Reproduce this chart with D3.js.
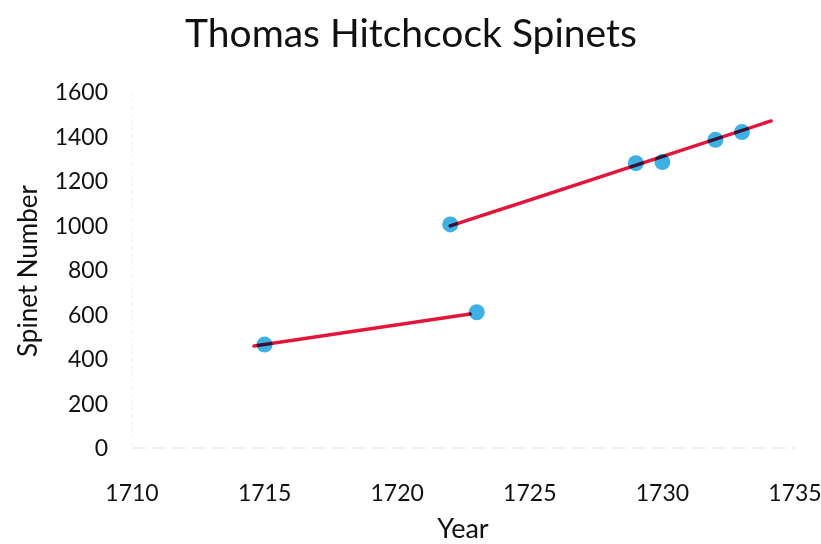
<!DOCTYPE html>
<html>
<head>
<meta charset="utf-8">
<script src="https://cdn.jsdelivr.net/npm/d3@7"></script>
<style>
  body { margin: 0; background: #fff; }
  svg { display: block; font-family: Lato, "Open Sans", sans-serif; }
</style>
</head>
<body>
<div id="chart"></div>
<script>
// observed spinets
var years = [1715, 1722, 1723, 1729, 1730, 1732, 1733];
var spinets = [465, 1005, 610, 1280, 1285, 1385, 1420];

// hand drawn trend lines (two runs)
var trendEarlyYears = [1714.6, 1722.75];
var trendEarlyValues = [458, 602];
var trendLateYears = [1722, 1734.1];
var trendLateValues = [998, 1470];

var xTicks = [1710, 1715, 1720, 1725, 1730, 1735];
var yTicks = [0, 200, 400, 600, 800, 1000, 1200, 1400, 1600];

var W = 821, H = 544;

var svg = d3.select('#chart').append('svg')
	.attr('width', W)
	.attr('height', H);

var x = d3.scaleLinear().domain([1710, 1735]).range([132, 795]);
var y = d3.scaleLinear().domain([0, 1600]).range([448, 92]);

// faint axis lines
svg.append('line')
	.attr('x1', x(1710)).attr('x2', x(1710))
	.attr('y1', y(1600)).attr('y2', y(0))
	.attr('stroke', '#efefef').attr('stroke-width', 1)
	.attr('stroke-dasharray', '4,3');
svg.append('line')
	.attr('x1', x(1710)).attr('x2', x(1735))
	.attr('y1', y(0)).attr('y2', y(0))
	.attr('stroke', '#f0f0f0').attr('stroke-width', 2)
	.attr('stroke-dasharray', '14,6');

// title
svg.append('text')
	.attr('x', 411).attr('y', 47)
	.attr('text-anchor', 'middle')
	.attr('font-size', 39)
	.attr('fill', '#111')
	.text('Thomas Hitchcock Spinets');

// y tick labels
svg.append('g').selectAll('text')
	.data(yTicks)
	.enter().append('text')
	.attr('x', 108)
	.attr('y', function(d) { return y(d); })
	.attr('dy', '0.35em')
	.attr('text-anchor', 'end')
	.attr('font-size', 23)
	.attr('fill', '#111')
	.text(function(d) { return d; });

// x tick labels
svg.append('g').selectAll('text')
	.data(xTicks)
	.enter().append('text')
	.attr('x', function(d) { return x(d); })
	.attr('y', 493)
	.attr('dy', '0.35em')
	.attr('text-anchor', 'middle')
	.attr('font-size', 23)
	.attr('fill', '#111')
	.text(function(d) { return d; });

// axis titles
svg.append('text')
	.attr('x', 463).attr('y', 538)
	.attr('text-anchor', 'middle')
	.attr('font-size', 27)
	.attr('fill', '#111')
	.text('Year');
svg.append('text')
	.attr('transform', 'translate(37,' + 271 + ') rotate(-90)')
	.attr('text-anchor', 'middle')
	.attr('font-size', 26)
	.attr('fill', '#111')
	.text('Spinet Number');

// points
svg.append('g').selectAll('circle')
	.data(years.map(function(d, i) { return [d, spinets[i]]; }))
	.enter().append('circle')
	.attr('cx', function(d) { return x(d[0]); })
	.attr('cy', function(d) { return y(d[1]); })
	.attr('r', 8)
	.attr('fill', '#3fb0e4');

// trend lines, multiplied so they darken over the dots
var line = d3.line()
	.x(function(d) { return x(d[0]); })
	.y(function(d) { return y(d[1]); });

[[trendEarlyYears, trendEarlyValues], [trendLateYears, trendLateValues]].forEach(function(t) {
	svg.append('path')
		.datum(t[0].map(function(d, i) { return [d, t[1][i]]; }))
		.attr('d', line)
		.attr('fill', 'none')
		.attr('stroke', '#e2163a')
		.attr('stroke-width', 3.5)
		.attr('stroke-linecap', 'round')
		.style('mix-blend-mode', 'multiply');
});
</script>
</body>
</html>
